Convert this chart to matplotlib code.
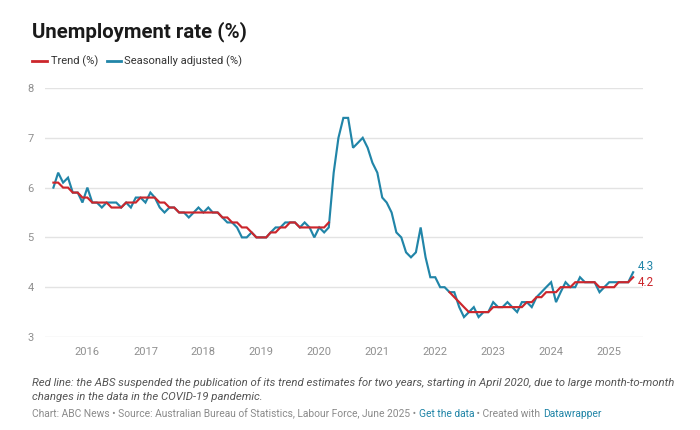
import matplotlib
matplotlib.use("Agg")
import matplotlib.pyplot as plt
import matplotlib.dates as mdates
from matplotlib.lines import Line2D
import numpy as np
import pandas as pd

plt.rcParams['font.family'] = ['Roboto', 'DejaVu Sans']

# ---------------- data ----------------
start_month = "2015-06-01"
seasonally_adjusted = [
    6.0, 6.3, 6.1, 6.2, 5.9, 5.9, 5.7, 6.0, 5.7, 5.7,
    5.6, 5.7, 5.7, 5.7, 5.6, 5.7, 5.6, 5.8, 5.8, 5.7,
    5.9, 5.8, 5.6, 5.5, 5.6, 5.6, 5.5, 5.5, 5.4, 5.5,
    5.6, 5.5, 5.6, 5.5, 5.5, 5.4, 5.3, 5.3, 5.2, 5.0,
    5.0, 5.1, 5.0, 5.0, 5.0, 5.1, 5.2, 5.2, 5.3, 5.3,
    5.3, 5.2, 5.3, 5.2, 5.0, 5.2, 5.1, 5.2, 6.3, 7.0,
    7.4, 7.4, 6.8, 6.9, 7.0, 6.8, 6.5, 6.3, 5.8, 5.7,
    5.5, 5.1, 5.0, 4.7, 4.6, 4.7, 5.2, 4.6, 4.2, 4.2,
    4.0, 4.0, 3.9, 3.9, 3.6, 3.4, 3.5, 3.6, 3.4, 3.5,
    3.5, 3.7, 3.6, 3.6, 3.7, 3.6, 3.5, 3.7, 3.7, 3.6,
    3.8, 3.9, 4.0, 4.1, 3.7, 3.9, 4.1, 4.0, 4.0, 4.2,
    4.1, 4.1, 4.1, 3.9, 4.0, 4.1, 4.1, 4.1, 4.1, 4.1,
    4.3,
]
trend = (
    [6.1, 6.1, 6.0, 6.0, 5.9, 5.9, 5.8, 5.8, 5.7, 5.7,
     5.7, 5.7, 5.6, 5.6, 5.6, 5.7, 5.7, 5.7, 5.8, 5.8,
     5.8, 5.8, 5.7, 5.7, 5.6, 5.6, 5.5, 5.5, 5.5, 5.5,
     5.5, 5.5, 5.5, 5.5, 5.5, 5.4, 5.4, 5.3, 5.3, 5.2,
     5.2, 5.1, 5.0, 5.0, 5.0, 5.1, 5.1, 5.2, 5.2, 5.3,
     5.3, 5.2, 5.2, 5.2, 5.2, 5.2, 5.2, 5.3]
    + [None] * 24
    + [3.9, 3.8, 3.7, 3.6, 3.5, 3.5, 3.5, 3.5,
       3.5, 3.6, 3.6, 3.6, 3.6, 3.6, 3.6, 3.6, 3.7, 3.7,
       3.8, 3.8, 3.9, 3.9, 3.9, 4.0, 4.0, 4.0, 4.1, 4.1,
       4.1, 4.1, 4.1, 4.0, 4.0, 4.0, 4.0, 4.1, 4.1, 4.1,
       4.2]
)
year_ticks = [2016, 2017, 2018, 2019, 2020, 2021, 2022, 2023, 2024, 2025]
y_ticks = [3, 4, 5, 6, 7, 8]

dates = pd.date_range(start_month, periods=len(seasonally_adjusted), freq="MS")
sa = np.array(seasonally_adjusted, dtype=float)
tr = np.array([np.nan if v is None else v for v in trend], dtype=float)

RED = "#cc262c"
BLUE = "#2185a8"
GRID = "#e3e3e3"
TICK = "#8f8f8f"

W, H = 700, 430
fig = plt.figure(figsize=(W / 100, H / 100), dpi=100)
fig.patch.set_facecolor("white")

ax = fig.add_axes([45 / W, 93 / H, 598 / W, 249 / H])
ax.plot(dates, sa, color=BLUE, lw=1.55, solid_joinstyle="miter", zorder=3)
ax.plot(dates, tr, color=RED, lw=1.55, solid_joinstyle="miter", zorder=4)

ax.set_ylim(3, 8)
ax.set_xlim(pd.Timestamp("2015-04-09"), pd.Timestamp("2025-08-02"))
ax.set_yticks(y_ticks)
ax.set_yticklabels([str(v) for v in y_ticks])
ax.set_xticks([pd.Timestamp(f"{y}-01-01") for y in year_ticks])
ax.set_xticklabels([str(y) for y in year_ticks])
ax.grid(axis="y", color=GRID, lw=1)
ax.set_axisbelow(True)
for s in ax.spines.values():
    s.set_visible(False)
ax.tick_params(axis="both", length=0, labelsize=8, colors=TICK)
ax.tick_params(axis="y", pad=8)
ax.tick_params(axis="x", pad=7)

# end labels
ax.annotate(f"{sa[-1]:.1f}", xy=(dates[-1], sa[-1]), xytext=(5, 6),
            textcoords="offset pixels", color=BLUE, fontsize=8.4,
            va="center", ha="left")
ax.annotate(f"{tr[-1]:.1f}", xy=(dates[-1], tr[-1]), xytext=(5, -5),
            textcoords="offset pixels", color=RED, fontsize=8.4,
            va="center", ha="left")

# title
fig.text(32 / W, 1 - 32 / H, "Unemployment rate (%)", fontsize=14.7,
         fontweight="bold", color="#1a1a1a", va="center", ha="left")

# legend
ly = 1 - 61 / H
fig.add_artist(Line2D([32 / W, 47 / W], [ly, ly], color=RED, lw=2))
fig.text(51 / W, ly, "Trend (%)", fontsize=8, color="#333333", va="center")
fig.add_artist(Line2D([107 / W, 121 / W], [ly, ly], color=BLUE, lw=2))
fig.text(124 / W, ly, "Seasonally adjusted (%)", fontsize=8,
         color="#333333", va="center")

# notes
fig.text(32 / W, 1 - 383 / H,
         "Red line: the ABS suspended the publication of its trend estimates for two years, "
         "starting in April 2020, due to large month-to-month",
         fontsize=8.2, style="italic", color="#555555", va="center")
fig.text(32 / W, 1 - 397 / H,
         "changes in the data in the COVID-19 pandemic.",
         fontsize=8.2, style="italic", color="#555555", va="center")

# footer composed of segments
renderer = fig.canvas.get_renderer()
pieces = [
    ("Chart: ABC News \u2022 Source: Australian Bureau of Statistics, Labour Force, June 2025 \u2022 ", "#8a8a8a"),
    ("Get the data", "#1f84a6"),
    (" \u2022 Created with ", "#8a8a8a"),
    ("Datawrapper", "#1f84a6"),
]
x = 32 / W
fy = 1 - 414 / H
for txt, col in pieces:
    t = fig.text(x, fy, txt, fontsize=7.4, color=col, va="center", ha="left")
    bb = t.get_window_extent(renderer)
    x = bb.x1 / W

fig.savefig("out.png", dpi=100, facecolor="white")
